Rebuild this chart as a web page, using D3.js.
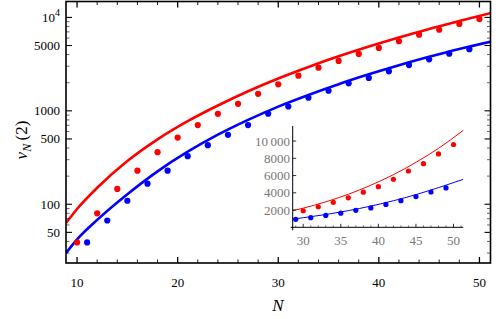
<!DOCTYPE html>
<html>
    <head>
        <script src="https://cdn.jsdelivr.net/npm/d3@7/dist/d3.min.js" type="text/javascript"></script>
        <style>
            body { margin: 0; background: white; }
            text { font-family: "Liberation Serif", "DejaVu Serif", serif; }
        </style>
    </head>
    <body>
    </body>
    <script>
        var width = 498;
        var height = 319;

        // points: red at even N, blue at odd N
        var redN = [10,12,14,16,18,20,22,24,26,28,30,32,34,36,38,40,42,44,46,48,50];
        var redV = [39,80,146,229,361,517,703,929,1189,1521,1920,2380,2900,3420,4070,4710,5570,6530,7380,8510,9600];
        var blueN = [11,13,15,17,19,21,23,25,27,29,31,33,35,37,39,41,43,45,47,49];
        var blueV = [39,67,109,166,229,327,429,553,703,930,1113,1380,1640,1970,2250,2650,3085,3560,4090,4570];

        // fitted curves
        var curveN = [8.9,10,12,15,18,21,24,27,30,33,36,39,42,45,48,51.3];
        var redCurve = [63,89,150,290,495,775,1140,1620,2220,2950,3830,4880,6100,7530,9150,11250];
        var blueCurve = [30,42,68,128,225,365,555,800,1110,1480,1930,2460,3080,3790,4600,5560];

        // ticks
        var xMajor = [10,20,30,40,50];
        var xMinor = [12,14,16,18,22,24,26,28,32,34,36,38,42,44,46,48];
        var yMajor = [50,100,500,1000,5000,10000];
        var yMajorLabels = ["50","100","500","1000","5000","10^4"];
        var yMinor = [30,40,60,70,80,90,200,300,400,600,700,800,900,2000,3000,4000,6000,7000,8000,9000];
        var insetXTicks = [30,35,40,45,50];
        var insetXMinor = [29,31,32,33,34,36,37,38,39,41,42,43,44,46,47,48,49,51];
        var insetYTicks = [2000,4000,6000,8000,10000];
        var insetYLabels = ["2000","4000","6000","8000","10\u2009000"];

        var pL = 66, pR = 490.5, pT = 1.5, pB = 263;

        var x = d3.scaleLinear().domain([8.9, 51.1]).range([pL, pR]);
        var y = d3.scaleLog().domain([23.5, 14800]).range([pB, pT]);

        var svg = d3.select("body").append("svg")
                                   .attr("width", width)
                                   .attr("height", height);

        svg.append("clipPath").attr("id", "mainclip")
            .append("rect")
            .attr("x", pL).attr("y", pT)
            .attr("width", pR - pL).attr("height", pB - pT);

        var plot = svg.append("g").attr("clip-path", "url(#mainclip)");

        var line = d3.line()
                     .x(function(d){ return x(d[0]); })
                     .y(function(d){ return y(d[1]); })
                     .curve(d3.curveMonotoneX);

        plot.append("path")
            .attr("d", line(d3.zip(curveN, redCurve)))
            .attr("fill", "none")
            .attr("stroke", "#ff0000")
            .attr("stroke-width", 2.6);
        plot.append("path")
            .attr("d", line(d3.zip(curveN, blueCurve)))
            .attr("fill", "none")
            .attr("stroke", "#0000ff")
            .attr("stroke-width", 2.6);

        plot.selectAll(".rdot").data(d3.zip(redN, redV)).enter().append("circle")
            .attr("cx", function(d){ return x(d[0]); })
            .attr("cy", function(d){ return y(d[1]); })
            .attr("r", 3.1)
            .attr("fill", "#ff0000");
        plot.selectAll(".bdot").data(d3.zip(blueN, blueV)).enter().append("circle")
            .attr("cx", function(d){ return x(d[0]); })
            .attr("cy", function(d){ return y(d[1]); })
            .attr("r", 3.1)
            .attr("fill", "#0000ff");

        // frame ticks, pointing inward on all sides
        var ticks = svg.append("g").attr("stroke", "black");
        function xt(list, len, w){
            list.forEach(function(v){
                ticks.append("line").attr("x1", x(v)).attr("x2", x(v))
                     .attr("y1", pB).attr("y2", pB - len).attr("stroke-width", w);
                ticks.append("line").attr("x1", x(v)).attr("x2", x(v))
                     .attr("y1", pT).attr("y2", pT + len).attr("stroke-width", w);
            });
        }
        function yt(list, len, w){
            list.forEach(function(v){
                ticks.append("line").attr("y1", y(v)).attr("y2", y(v))
                     .attr("x1", pL).attr("x2", pL + len).attr("stroke-width", w);
                ticks.append("line").attr("y1", y(v)).attr("y2", y(v))
                     .attr("x1", pR).attr("x2", pR - len).attr("stroke-width", w);
            });
        }
        xt(xMajor, 6, 1.3);
        xt(xMinor, 3.5, 0.9);
        yt(yMajor, 6, 1.1);
        yt(yMinor, 3.5, 0.6);

        svg.append("rect")
            .attr("x", pL).attr("y", pT)
            .attr("width", pR - pL).attr("height", pB - pT)
            .attr("fill", "none")
            .attr("stroke", "black")
            .attr("stroke-width", 1.6);

        // tick labels
        svg.selectAll(".xl").data(xMajor).enter().append("text")
            .attr("x", function(d){ return x(d); })
            .attr("y", 287)
            .attr("text-anchor", "middle")
            .attr("font-size", "13px")
            .text(function(d){ return d; });

        yMajor.forEach(function(v, i){
            var lab = yMajorLabels[i];
            var t = svg.append("text")
                       .attr("x", 60)
                       .attr("y", y(v) + 4.5)
                       .attr("text-anchor", "end")
                       .attr("font-size", "13px");
            if (lab.indexOf("^") > 0) {
                var parts = lab.split("^");
                t.append("tspan").text(parts[0]);
                t.append("tspan").attr("dy", -6).attr("font-size", "10px").text(parts[1]);
            } else {
                t.text(lab);
            }
        });

        // axis titles
        svg.append("text")
            .attr("x", 278)
            .attr("y", 311)
            .attr("text-anchor", "middle")
            .attr("font-size", "17px")
            .attr("font-style", "italic")
            .text("N");

        var yl = svg.append("text")
            .attr("transform", "translate(27,140) rotate(-90)")
            .attr("text-anchor", "middle")
            .attr("font-size", "17px");
        yl.append("tspan").attr("font-style", "italic").text("\u03bd");
        yl.append("tspan").attr("font-style", "italic").attr("font-size", "12px").attr("dy", 4).text("N");
        yl.append("tspan").attr("dy", -4).text("\u2009(2)");

        // inset
        var ix = d3.scaleLinear().domain([28.6, 51.3]).range([292.7, 463.3]);
        var iy = d3.scaleLinear().domain([0, 11745]).range([227.3, 126]);

        var inset = svg.append("g");
        inset.append("clipPath").attr("id", "insetclip")
            .append("rect")
            .attr("x", ix(28.6)).attr("y", 120)
            .attr("width", ix(51.3) - ix(28.6)).attr("height", 110);

        var iline = d3.line()
                      .x(function(d){ return ix(d[0]); })
                      .y(function(d){ return iy(d[1]); })
                      .curve(d3.curveMonotoneX);

        var ig = inset.append("g").attr("clip-path", "url(#insetclip)");
        ig.append("path")
          .attr("d", iline(d3.zip(curveN, redCurve)))
          .attr("fill", "none")
          .attr("stroke", "#ff0000")
          .attr("stroke-width", 1);
        ig.append("path")
          .attr("d", iline(d3.zip(curveN, blueCurve)))
          .attr("fill", "none")
          .attr("stroke", "#0000ff")
          .attr("stroke-width", 1);

        inset.selectAll(".ir").data(d3.zip(redN, redV).filter(function(d){ return d[0] >= 29; }))
            .enter().append("circle")
            .attr("cx", function(d){ return ix(d[0]); })
            .attr("cy", function(d){ return iy(d[1]); })
            .attr("r", 2.6)
            .attr("fill", "#ff0000");
        inset.selectAll(".ib").data(d3.zip(blueN, blueV).filter(function(d){ return d[0] >= 29; }))
            .enter().append("circle")
            .attr("cx", function(d){ return ix(d[0]); })
            .attr("cy", function(d){ return iy(d[1]); })
            .attr("r", 2.6)
            .attr("fill", "#0000ff");

        // inset axes
        inset.append("line")
            .attr("x1", ix(28.6) - 2).attr("x2", ix(51.3))
            .attr("y1", iy(0)).attr("y2", iy(0))
            .attr("stroke", "black").attr("stroke-width", 1);
        inset.append("line")
            .attr("x1", ix(28.6)).attr("x2", ix(28.6))
            .attr("y1", iy(0) + 3).attr("y2", 126)
            .attr("stroke", "black").attr("stroke-width", 1);

        insetXTicks.forEach(function(v){
            inset.append("line").attr("x1", ix(v)).attr("x2", ix(v))
                 .attr("y1", iy(0)).attr("y2", iy(0) - 3.5)
                 .attr("stroke", "black").attr("stroke-width", 0.8);
        });
        insetXMinor.forEach(function(v){
            inset.append("line").attr("x1", ix(v)).attr("x2", ix(v))
                 .attr("y1", iy(0)).attr("y2", iy(0) - 2)
                 .attr("stroke", "black").attr("stroke-width", 0.5);
        });
        insetYTicks.forEach(function(v){
            inset.append("line").attr("x1", ix(28.6)).attr("x2", ix(28.6) + 3.5)
                 .attr("y1", iy(v)).attr("y2", iy(v))
                 .attr("stroke", "black").attr("stroke-width", 0.8);
        });

        inset.selectAll(".ixl").data(insetXTicks).enter().append("text")
            .attr("x", function(d){ return ix(d); })
            .attr("y", 245)
            .attr("text-anchor", "middle")
            .attr("font-size", "13px")
            .attr("fill", "#777")
            .text(function(d){ return d; });
        inset.selectAll(".iyl").data(insetYTicks).enter().append("text")
            .attr("x", 290)
            .attr("y", function(d){ return iy(d) + 4.5; })
            .attr("text-anchor", "end")
            .attr("font-size", "13px")
            .attr("fill", "#777")
            .text(function(d, i){ return insetYLabels[i]; });
    </script>
</html>
